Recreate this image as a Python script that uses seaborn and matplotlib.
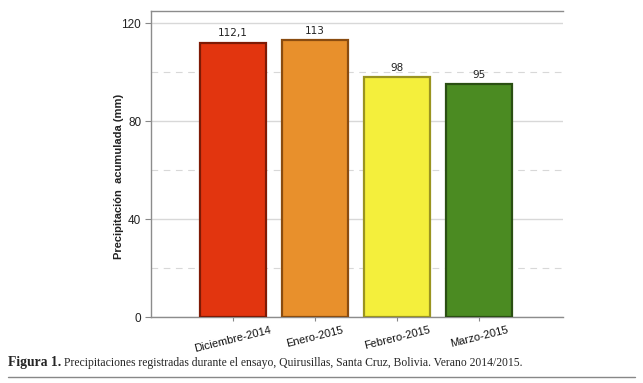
import matplotlib
matplotlib.use("Agg")
from matplotlib import pyplot as plt
from matplotlib.lines import Line2D
import seaborn as sns
import pandas as pd

sns.set_theme(style="white")
plt.rcParams["font.family"] = ["Liberation Sans", "DejaVu Sans"]

months = ["Diciembre-2014", "Enero-2015", "Febrero-2015", "Marzo-2015"]
rain_mm = [112.1, 113, 98, 95]
value_labels = ["112,1", "113", "98", "95"]
bar_colors = ["#e2350f", "#e8902c", "#f4ef3c", "#4b8b22"]
edge_colors = ["#7e1a05", "#8a4c10", "#9a9420", "#2a4f12"]

df = pd.DataFrame({"mes": months, "pp": rain_mm})

fig = plt.figure(figsize=(6.43, 3.83), dpi=100)
ax = fig.add_axes([0.2348, 0.1723, 0.6408, 0.7990])

sns.barplot(data=df, x="mes", y="pp", hue="mes", palette=bar_colors,
            width=0.8, legend=False, ax=ax, saturation=1)
for patch, ec in zip(ax.patches, edge_colors):
    patch.set_edgecolor(ec)
    patch.set_linewidth(1.6)
    patch.set_zorder(3)

for i, (v, lab) in enumerate(zip(rain_mm, value_labels)):
    ax.text(i, v + 1.8, lab, ha="center", va="bottom", fontsize=7.5,
            family=["DejaVu Sans"], color="#222222", zorder=4)

ax.set_xlim(-1, 4.02)
ax.set_ylim(0, 125)
ax.set_yticks([0, 40, 80, 120])
ax.set_yticks([20, 60, 100], minor=True)
ax.grid(axis="y", which="major", color="#d8d8d8", linewidth=1, zorder=0)
ax.grid(axis="y", which="minor", color="#d8d8d8", linewidth=0.8,
        linestyle=(0, (6, 5)), zorder=0)
ax.set_axisbelow(True)

ax.tick_params(axis="y", which="major", left=True, length=4, width=0.8,
               color="#888888", labelsize=8.5, labelcolor="#222222", pad=3)
ax.tick_params(axis="y", which="minor", left=False)
ax.tick_params(axis="x", bottom=True, length=3, width=0.8, color="#888888",
               labelsize=8, labelcolor="#111111", pad=3)
plt.setp(ax.get_xticklabels(), rotation=14, ha="center")

for side in ["left", "top", "bottom"]:
    ax.spines[side].set_visible(True)
    ax.spines[side].set_color("#8c8c8c")
    ax.spines[side].set_linewidth(1.0)
ax.spines["right"].set_visible(False)

ax.set_xlabel("")
ax.set_ylabel("Precipitación  acumulada (mm)", fontsize=8, fontweight="bold",
              color="#222222")
ax.yaxis.set_label_coords(-0.066, 0.46)

# caption
fig.canvas.draw()
renderer = fig.canvas.get_renderer()
t1 = fig.text(8 / 643, 1 - 366 / 383, "Figura 1.", family=["Liberation Serif"],
              fontweight="bold", fontsize=9.8, va="baseline", ha="left")
bb = t1.get_window_extent(renderer=renderer)
x2 = (bb.x1 + 3) / fig.bbox.width
fig.text(x2, 1 - 366 / 383,
         "Precipitaciones registradas durante el ensayo, Quirusillas, Santa Cruz, Bolivia. Verano 2014/2015.",
         family=["Liberation Serif"], fontsize=8.4, va="baseline", ha="left")
fig.add_artist(Line2D([8 / 643, 635 / 643], [1 - 377 / 383, 1 - 377 / 383],
                      color="#888888", linewidth=1.0, transform=fig.transFigure))

fig.savefig("out.png", dpi=100)
